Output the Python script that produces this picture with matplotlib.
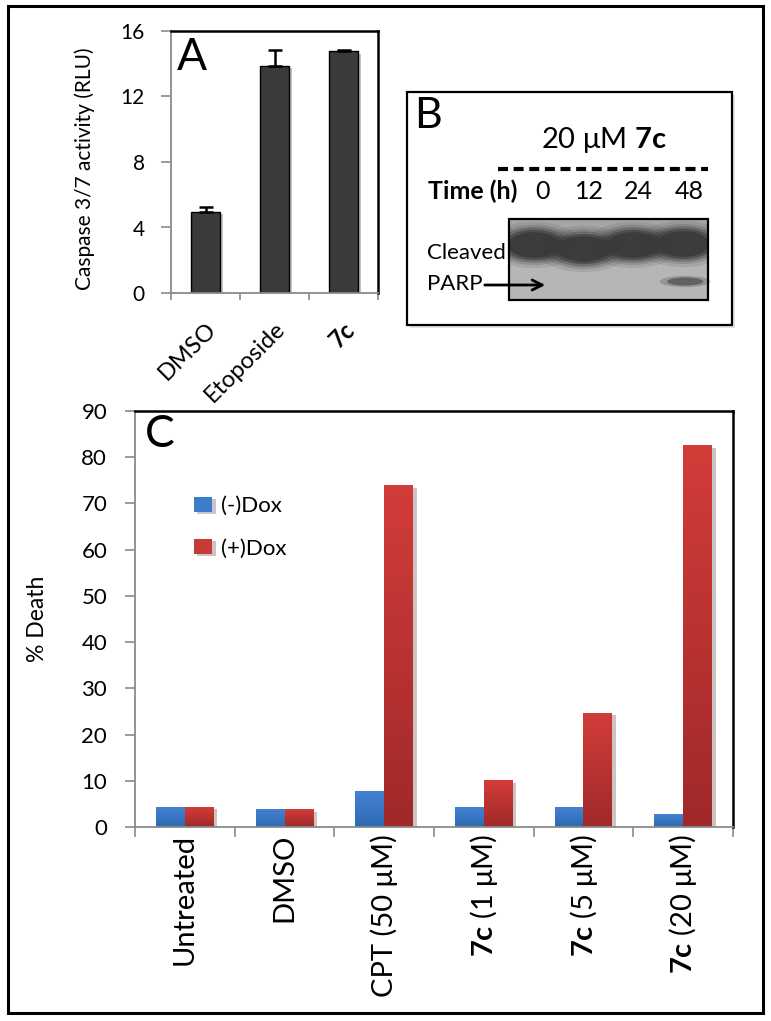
import matplotlib
matplotlib.use('Agg')
import matplotlib.pyplot as plt
import matplotlib.patheffects as pe
import matplotlib.transforms as mtrans
import numpy as np
from matplotlib.patches import Rectangle, Ellipse
from matplotlib.colors import LinearSegmentedColormap

plt.rcParams['font.family'] = ['Lato', 'DejaVu Sans']
plt.rcParams['mathtext.fontset'] = 'custom'
plt.rcParams['mathtext.rm'] = 'Lato'
plt.rcParams['mathtext.bf'] = 'Lato:bold'
plt.rcParams['mathtext.it'] = 'Lato:italic'

# datos panel A: actividad caspasa 3/7
trat_A = ['DMSO', 'Etoposide', '7c']
caspasa = [4.93, 13.85, 14.75]
err_caspasa = [0.32, 1.0, 0.12]

# datos panel B: western blot
tiempos = ['0', '12', '24', '48']
parp_cortada = [False, False, False, True]

# datos panel C: % muerte
trat_C = ['Untreated', 'DMSO', r'CPT (50 μM)', r'$\mathbf{7c}$ (1 μM)',
          r'$\mathbf{7c}$ (5 μM)', r'$\mathbf{7c}$ (20 μM)']
sin_dox = [4.3, 3.7, 7.6, 4.2, 4.3, 2.6]
con_dox = [4.3, 3.7, 73.8, 10.0, 24.6, 82.5]

W, H = 771, 1021
fig = plt.figure(figsize=(W / 100, H / 100), dpi=100)


def caja(izq, der, arriba, abajo):
    return [izq / W, 1 - abajo / H, (der - izq) / W, (abajo - arriba) / H]


def gradiente(ax, barras, c_arriba, c_abajo):
    cmap = LinearSegmentedColormap.from_list('g', [c_abajo, c_arriba])
    g = np.linspace(0, 1, 64).reshape(-1, 1)
    for b in barras:
        x0, y0, w, h = b.get_x(), b.get_y(), b.get_width(), b.get_height()
        ax.imshow(g, extent=[x0, x0 + w, y0, y0 + h], origin='lower',
                  aspect='auto', cmap=cmap, zorder=b.get_zorder() + 0.1)


def bordes(ax):
    for s in ['left', 'bottom']:
        ax.spines[s].set_color('#8a8a8a')
        ax.spines[s].set_linewidth(1.3)
    for s in ['top', 'right']:
        ax.spines[s].set_color('black')
        ax.spines[s].set_linewidth(1.8)


sombra = [pe.SimplePatchShadow(offset=(2.5, -1.5), alpha=0.25), pe.Normal()]

# ---------------- panel A
axA = fig.add_axes(caja(171, 378, 31, 293), zorder=1)
xa = np.arange(len(trat_A))
barrasA = axA.bar(xa, caspasa, width=0.41, color='#3a3a3a', edgecolor='black',
                  linewidth=1, zorder=2)
for b in barrasA:
    b.set_path_effects(sombra)
axA.errorbar(xa, caspasa, yerr=[np.zeros(3), err_caspasa], fmt='none',
             ecolor='black', elinewidth=1.8, capsize=5, capthick=1.8, zorder=3)
axA.set_xlim(-0.5, 2.5)
axA.set_ylim(0, 16)
axA.set_yticks([0, 4, 8, 12, 16])
axA.set_xticks(xa)
axA.set_xticklabels(trat_A, rotation=45, ha='right', rotation_mode='anchor')
axA.get_xticklabels()[2].set_fontweight('bold')
despl = mtrans.ScaledTranslation(-4 / 100, 0, fig.dpi_scale_trans)
for lbl in axA.get_xticklabels():
    lbl.set_transform(lbl.get_transform() + despl)
axA.set_xticks(np.arange(-0.5, 3), minor=True)
axA.tick_params(axis='x', which='major', length=0, pad=18, labelsize=17)
axA.tick_params(axis='x', which='minor', direction='out', length=5, color='#8a8a8a', width=1.2)
axA.tick_params(axis='y', direction='out', length=7, color='#8a8a8a', width=1.2,
                pad=12, labelsize=15)
axA.set_ylabel('Caspase 3/7 activity (RLU)', fontsize=15)
axA.yaxis.set_label_coords(-0.365, 0.475)
bordes(axA)

# ---------------- panel C
axC = fig.add_axes(caja(135, 733, 411, 827), zorder=1)
xc = np.arange(len(trat_C))
ancho = 0.29
b1 = axC.bar(xc - ancho / 2, sin_dox, ancho, color='#3d7cc9', label='(-)Dox', zorder=2)
b2 = axC.bar(xc + ancho / 2, con_dox, ancho, color='#c83a36', label='(+)Dox', zorder=2)
for b in list(b1) + list(b2):
    b.set_path_effects(sombra)
gradiente(axC, b1, '#4382d2', '#2f69b3')
gradiente(axC, b2, '#d23c39', '#a0292a')
axC.set_xlim(-0.5, 5.5)
axC.set_ylim(0, 90)
axC.set_yticks(np.arange(0, 91, 10))
axC.set_xticks(xc)
axC.set_xticklabels(trat_C, rotation=90, ha='center', va='top')
axC.set_xticks(np.arange(-0.5, 6), minor=True)
axC.tick_params(axis='x', which='major', length=0, pad=5, labelsize=21)
axC.tick_params(axis='x', which='minor', direction='out', length=7, color='#8a8a8a', width=1.2)
axC.tick_params(axis='y', direction='out', length=7, color='#8a8a8a', width=1.2,
                pad=13, labelsize=16)
axC.set_ylabel('% Death', fontsize=16.5)
axC.yaxis.set_label_coords(-0.145, 0.5)
bordes(axC)
axC.legend(loc='upper left', bbox_to_anchor=(0.0987, 0.795), frameon=False, fontsize=16,
           handlelength=0.82, handleheight=0.65, handletextpad=0.4, labelspacing=1.0,
           borderpad=0, borderaxespad=0)

# ---------------- lienzo en pixeles: borde, letras y panel B
lz = fig.add_axes([0, 0, 1, 1], zorder=5)
lz.set_xlim(0, W)
lz.set_ylim(H, 0)
lz.axis('off')

lz.add_patch(Rectangle((8, 6), 755, 1007, fill=False, ec='black', lw=2.2))
lz.text(177, 70, 'A', fontsize=32, ha='left', va='baseline')
lz.text(145, 447, 'C', fontsize=32, ha='left', va='baseline')

# caja B
lz.add_patch(Rectangle((410, 95), 325, 233, fc='#d0d0d0', ec='none', alpha=0.6))
lz.add_patch(Rectangle((407, 92), 325, 233, fc='white', ec='black', lw=1.6))
lz.text(414, 128, 'B', fontsize=31, ha='left', va='baseline')
lz.text(604, 148, r'20 μM $\mathbf{7c}$', fontsize=21, ha='center', va='baseline')
lz.plot([498, 708], [169, 169], color='black', lw=3, ls=(0, (2.4, 1.35)),
        solid_capstyle='butt', dash_capstyle='butt')
lz.text(428, 199, 'Time (h)', fontsize=18, fontweight='bold', ha='left', va='baseline')
x_etiq = [543, 589, 638, 689]
for t, x in zip(tiempos, x_etiq):
    lz.text(x, 199, t, fontsize=18, ha='center', va='baseline')

# membrana
bl_izq, bl_der, bl_arr, bl_ab = 509, 708, 219, 300
marco = Rectangle((bl_izq, bl_arr), bl_der - bl_izq, bl_ab - bl_arr,
                  transform=lz.transData)
lz.add_patch(Rectangle((bl_izq, bl_arr), bl_der - bl_izq, bl_ab - bl_arr,
                       fc='#b6b6b6', ec='none', zorder=1))
lz.add_patch(Rectangle((bl_izq, bl_arr), bl_der - bl_izq, 14,
                       fc='#9c9c9c', ec='none', alpha=0.6, zorder=1))
carril = (bl_der - bl_izq) / len(tiempos)
desv = [0, 4, 0, -1]
for i, t in enumerate(tiempos):
    xc_l = bl_izq + (i + 0.5) * carril
    for k, a in zip([1.45, 1.25, 1.1, 0.95, 0.8], [0.12, 0.2, 0.35, 0.6, 0.9]):
        e = Ellipse((xc_l, 245 + desv[i]), carril * 1.3 * k, 32 * k,
                    fc='#3a3a3a', ec='none', alpha=a, zorder=2)
        lz.add_patch(e)
        e.set_clip_path(marco)
    if parp_cortada[i]:
        for k, a in zip([1.4, 1.0], [0.35, 0.8]):
            lz.add_patch(Ellipse((xc_l + 2, 281.5), 36 * k, 8 * k, fc='#555555',
                                 ec='none', alpha=a, zorder=2))
lz.add_patch(Rectangle((bl_izq, bl_arr), bl_der - bl_izq, bl_ab - bl_arr,
                       fill=False, ec='black', lw=1.6, zorder=3))
lz.text(427, 259, 'Cleaved', fontsize=16, ha='left', va='baseline', zorder=4)
lz.text(427, 290, 'PARP', fontsize=16, ha='left', va='baseline', zorder=4)
lz.annotate('', xy=(548, 285), xytext=(482, 285),
            arrowprops=dict(arrowstyle='->', lw=2, color='black', mutation_scale=18))

fig.savefig('out.png', dpi=100, facecolor='white')
